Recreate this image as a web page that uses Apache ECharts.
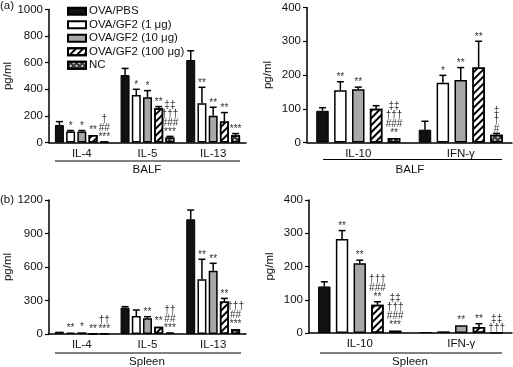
<!DOCTYPE html>
<html><head><meta charset="utf-8">
<script src="https://cdn.jsdelivr.net/npm/echarts@6/dist/echarts.min.js"></script>
<style>html,body{margin:0;padding:0;background:#fff}#c{width:513px;height:367px}</style>
</head><body><div id="c"></div>
<script>
const seriesNames = ['OVA/PBS','OVA/GF2 (1 μg)','OVA/GF2 (10 μg)','OVA/GF2 (100 μg)','NC'];
const th2Cats = ['IL-4','IL-5','IL-13'];
const th1Cats = ['IL-10','IFN-γ'];

// rows = groups (seriesNames order), columns = categories
const balfTh2Mean = [[132,507,620],[82,357,295],[82,340,202],[57,257,157],[6,38,55]];
const balfTh2Err  = [[25,50,70],[8,43,120],[8,50,63],[5,13,68],[0,8,12]];
const balfTh2Marks = [[[],[],[]],[['*'],['*'],['**']],[['*'],['*'],['**']],[['**'],['**'],['**']],
  [['†','##','***'],['‡‡','†††','###','***'],['***']]];

const balfTh1Mean = [[94,38],[155,177],[158,185],[100,222],[13,23]];
const balfTh1Err  = [[9,25],[25,22],[6,37],[9,78],[2,4]];
const balfTh1Marks = [[[],[]],[['**'],['*']],[['**'],['**']],[[],['**']],
  [['‡‡','†††','###','**'],['‡','†','#']]];

const spleenTh2Mean = [[21,236,1027],[12,161,490],[15,140,567],[2,66,290],[3,12,42]];
const spleenTh2Err  = [[3,9,83],[2,54,179],[2,15,66],[0,6,29],[0,2,6]];
const spleenTh2Marks = [[[],[],[]],[['**'],[],['**']],[['*'],['**'],['**']],[['**'],['**'],['**']],
  [['††','***'],['††','##','***'],['†††','##','***']]];

const spleenTh1Mean = [[140,3],[283,5],[210,23],[85,18],[7,1]];
const spleenTh1Err  = [[14,0],[25,1],[9,2],[9,10],[2,0]];
const spleenTh1Marks = [[[],[]],[['**'],[]],[['**'],['**']],[['†††','###','**'],['**']],
  [['‡‡','†††','###','***'],['‡‡','†††']]];

const yMax = [1000, 400, 1200, 400];
const yStep = [200, 100, 300, 100];

const FONT = 'Liberation Sans, Arial, Helvetica, sans-serif';
const panels = [
  {cats: th2Cats, mean: balfTh2Mean, err: balfTh2Err, marks: balfTh2Marks, grid:{left:49, top:9.5, width:197, height:133}, barGap:0.25, catGap:0.18},
  {cats: th1Cats, mean: balfTh1Mean, err: balfTh1Err, marks: balfTh1Marks, grid:{left:307, top:7.5, width:205, height:135}, barGap:0.43, catGap:0.18},
  {cats: th2Cats, mean: spleenTh2Mean, err: spleenTh2Err, marks: spleenTh2Marks, grid:{left:49, top:200, width:197, height:134}, barGap:0.25, catGap:0.18},
  {cats: th1Cats, mean: spleenTh1Mean, err: spleenTh1Err, marks: spleenTh1Marks, grid:{left:309, top:200, width:203, height:133}, barGap:0.43, catGap:0.18}
];

const styles = [
  {color:'#111', borderColor:'#000', borderWidth:1},
  {color:'#fff', borderColor:'#000', borderWidth:1.5},
  {color:'#a8a8a8', borderColor:'#000', borderWidth:1.5},
  {color:'#fff', borderColor:'#000', borderWidth:1.5,
    decal:{symbol:'rect', symbolSize:1, dashArrayX:[1,0], dashArrayY:[1.3,2.7], rotation:-Math.PI/4, color:'#000'}},
  {color:'#3a3a3a', borderColor:'#000', borderWidth:1.5,
    decal:{symbol:'rect', symbolSize:1, dashArrayX:[1.5,1.5], dashArrayY:[1.5,1.5], rotation:Math.PI/4, color:'#cfcfcf'}}
];

const grids = [], xAxes = [], yAxes = [], series = [];
panels.forEach((p, pi) => {
  grids.push(p.grid);
  xAxes.push({type:'category', gridIndex:pi, data:p.cats,
    axisLine:{lineStyle:{color:'#000', width:1.5}}, axisTick:{show:false},
    axisLabel:{color:'#111', fontSize:11.5, fontFamily:FONT, margin:5}});
  yAxes.push({type:'value', gridIndex:pi, min:0, max:yMax[pi], interval:yStep[pi],
    name:'pg/ml', nameLocation:'middle', nameRotate:90, nameGap:33,
    nameTextStyle:{color:'#111', fontSize:11.5, fontFamily:FONT},
    splitLine:{show:false},
    axisLine:{show:true, lineStyle:{color:'#000', width:1.5}},
    axisTick:{show:true, length:4, lineStyle:{color:'#000', width:1.2}},
    axisLabel:{color:'#111', fontSize:11.5, fontFamily:FONT, margin:6, formatter: v => String(v)}});
  seriesNames.forEach((name, g) => {
    series.push({type:'bar', name, xAxisIndex:pi, yAxisIndex:pi, data:p.mean[g],
      barGap:(p.barGap*100)+'%', barCategoryGap:(p.catGap*100)+'%',
      itemStyle:styles[g], silent:true});
  });
  const errData = [];
  p.mean.forEach((row, g) => row.forEach((v, c) => errData.push([c, v + p.err[g][c], g, v])));
  series.push({type:'custom', xAxisIndex:pi, yAxisIndex:pi, silent:true, z:10,
    data: errData,
    renderItem: (params, api) => {
      const c = api.value(0), top = api.value(1), g = api.value(2), v = api.value(3);
      const band = api.size([1, 0])[0];
      const groupW = band * (1 - p.catGap);
      const w = groupW / (5 + 4 * p.barGap);
      const xc = api.coord([c, 0])[0] - groupW / 2 + w / 2 + g * w * (1 + p.barGap);
      const yTop = api.coord([c, top])[1];
      const yBar = api.coord([c, v])[1];
      const children = [];
      if (yBar - yTop > 0.8) {
        children.push({type:'line', shape:{x1:xc, y1:yBar, x2:xc, y2:yTop}, style:{stroke:'#000', lineWidth:1.5}});
        children.push({type:'line', shape:{x1:xc - 3.5, y1:yTop, x2:xc + 3.5, y2:yTop}, style:{stroke:'#000', lineWidth:1.5}});
      }
      const m = p.marks[g][c];
      if (m && m.length) {
        children.push({type:'text', style:{text:m.join('\n'), x:xc, y:yTop,
          align:'center', verticalAlign:'bottom', fill:'#333', font:'10px ' + FONT, lineHeight:9}});
      }
      return {type:'group', children};
    }});
});

const txt = (t, x, y, align) => ({type:'text', x, y,
  style:{text:t, fill:'#111', font:'11.5px ' + FONT, align:align||'center', verticalAlign:'middle'}});
const ln = (x1, x2, y) => ({type:'line', shape:{x1, y1:y, x2, y2:y}, style:{stroke:'#000', lineWidth:1}});

const option = {
  animation:false,
  backgroundColor:'#fff',
  grid:grids, xAxis:xAxes, yAxis:yAxes, series,
  legend:{data:seriesNames, orient:'vertical', left:62, top:0, icon:'rect',
    itemWidth:18, itemHeight:7, itemGap:1,
    textStyle:{color:'#111', fontSize:11.5, fontFamily:FONT, lineHeight:12.5, padding:[0,0,0,-2]}},
  graphic:[
    txt('(a)', 0, 6, 'left'), txt('(b)', 0, 200, 'left'),
    ln(55, 240, 161), txt('BALF', 147, 170),
    ln(323, 502, 159.5), txt('BALF', 410, 170),
    ln(55, 241, 353), txt('Spleen', 147, 362),
    ln(320, 502, 353), txt('Spleen', 410, 362)
  ]
};
const chart = echarts.init(document.getElementById('c'), null, {renderer:'canvas'});
chart.setOption(option);
</script></body></html>
